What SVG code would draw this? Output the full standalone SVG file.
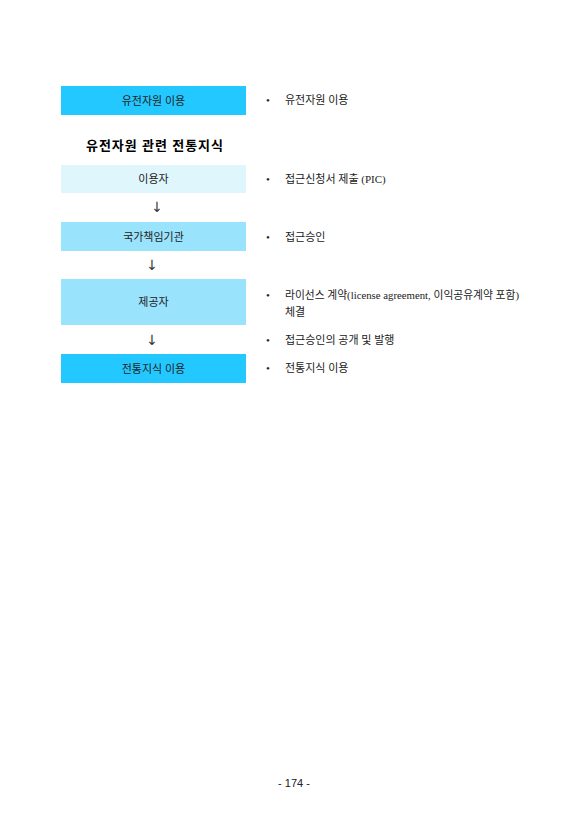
<svg xmlns="http://www.w3.org/2000/svg" width="587" height="830" viewBox="0 0 587 830">
<style>
text{font-family:"Liberation Serif","Noto Sans CJK KR",serif;font-size:11px;fill:#222}
.lbl{text-anchor:middle}
.arr{font-family:"DejaVu Sans",sans-serif;font-size:14px;text-anchor:middle;fill:#333}
.title{font-weight:bold;font-size:13px;letter-spacing:1px;text-anchor:middle;fill:#000}
</style>
<rect width="587" height="830" fill="#fff"/>
<g id="n1"><rect x="61" y="86" width="185" height="29" fill="#22C8FF"/><text class="lbl" x="153.5" y="104.5">유전자원 이용</text></g>
<text class="title" x="155" y="150">유전자원 관련 전통지식</text>
<g id="n2"><rect x="61" y="165" width="185" height="28" fill="#E0F6FD"/><text class="lbl" x="153.5" y="183">이용자</text></g>
<g id="n3"><rect x="61" y="222" width="185" height="29" fill="#99E3FC"/><text class="lbl" x="153.5" y="240.5">국가책임기관</text></g>
<g id="n4"><rect x="61" y="279" width="185" height="46" fill="#99E3FC"/><text class="lbl" x="153.5" y="306">제공자</text></g>
<g id="n5"><rect x="61" y="354" width="185" height="29" fill="#22C8FF"/><text class="lbl" x="153.5" y="372.5">전통지식 이용</text></g>
<g id="connectors">
<text class="arr" x="157" y="212">↓</text>
<text class="arr" x="152" y="270">↓</text>
<text class="arr" x="152" y="345">↓</text>
</g>
<g id="notes">
<text x="266" y="104">•</text><text x="285" y="104">유전자원 이용</text>
<text x="266" y="183">•</text><text x="285" y="183">접근신청서 제출 (PIC)</text>
<text x="266" y="241">•</text><text x="285" y="241">접근승인</text>
<text x="266" y="299">•</text><text x="285" y="299" textLength="234" lengthAdjust="spacingAndGlyphs">라이선스 계약(license agreement, 이익공유계약 포함)</text>
<text x="285" y="316">체결</text>
<text x="266" y="344">•</text><text x="285" y="344">접근승인의 공개 및 발행</text>
<text x="266" y="372">•</text><text x="285" y="372">전통지식 이용</text>
</g>
<text x="294" y="787" style="font-family:'Liberation Sans','Noto Sans CJK KR',sans-serif;font-size:11px;text-anchor:middle">- 174 -</text>
</svg>
